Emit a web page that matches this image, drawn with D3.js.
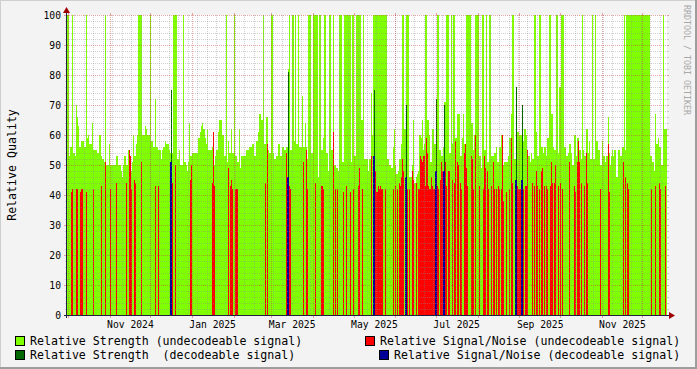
<!DOCTYPE html>
<html>
<head>
<meta charset="utf-8">
<script src="https://cdn.jsdelivr.net/npm/d3@7"></script>
<style>
  body { margin: 0; background: #f3f3f3; }
  svg { display: block; }
  text { font-family: "DejaVu Sans Mono", monospace; fill: #000; }
</style>
</head>
<body>
<div id="chart"></div>
<script>
// samples: one every ~17.8 h, from the first sample time
const sampleStart = Date.UTC(2024, 8, 30, 11, 0);
const sampleEnd = Date.UTC(2025, 11, 19, 13, 0);

// relative strength, undecodeable signal (one value per sample)
const strength = [
  100,100,53,56,56,100,54,54,53,70, 66,63,56,56,58,58,58,56,56,100,
  59,60,57,57,57,64,55,55,55,55, 54,54,60,60,53,52,52,51,100,50,
  50,50,57,50,50,50,50,50,50,53, 53,50,50,50,48,46,50,53,53,50,
  50,55,53,50,48,51,60,53,53,57, 60,100,100,100,100,60,60,60,63,62,
  60,60,60,100,58,58,56,56,72,56, 56,55,55,55,52,55,56,56,58,57,
  57,57,55,54,54,54,100,100,100,100, 52,52,55,50,50,50,100,51,51,50,
  48,51,64,53,53,54,54,54,54,54, 54,59,59,61,63,64,62,62,59,57,
  62,55,55,55,55,56,53,50,53,55, 55,61,65,65,65,60,60,53,53,100,
  51,58,54,54,62,54,54,100,53,53, 51,51,62,49,53,53,53,53,53,55,
  55,55,56,56,56,57,57,53,53,58, 58,61,67,67,65,65,100,57,57,66,
  66,55,54,54,100,100,54,52,52,53, 53,57,57,53,53,56,56,55,55,56,
  56,82,100,55,55,100,100,58,100,57, 57,100,56,56,56,73,56,56,64,56,
  52,100,100,100,54,54,100,100,100,100, 100,46,100,100,55,55,59,100,100,54,
  54,48,100,100,55,55,100,50,50,49, 49,48,100,100,100,51,51,100,100,100,
  100,100,100,100,51,100,100,53,53,100, 100,100,100,100,65,65,100,52,52,52,
  52,48,52,52,74,60,100,100,100,100, 100,100,100,100,100,100,100,100,100,100,
  52,52,50,50,49,49,56,62,50,47, 47,48,52,52,57,100,100,62,62,100,
  100,100,46,46,46,50,65,44,44,46, 47,48,60,60,59,65,55,57,100,100,
  65,65,60,51,51,62,62,57,57,57, 100,100,55,55,53,53,56,71,71,100,
  100,100,54,54,100,57,100,100,59,59, 67,67,67,53,53,59,67,57,57,100,
  100,100,100,100,64,64,55,60,100,100, 100,100,53,53,49,100,100,55,55,100,
  51,51,100,100,53,53,53,54,54,56, 51,51,56,56,60,60,50,51,51,51,
  51,53,59,59,67,100,100,52,52,52, 61,61,60,60,60,58,58,62,62,60,
  53,53,53,51,54,52,52,100,100,61, 53,53,100,100,56,56,54,56,56,53,
  59,59,100,100,67,67,56,55,55,100, 100,54,76,76,100,100,100,56,56,53,
  53,54,57,57,54,50,50,60,60,53, 59,59,55,55,52,100,55,53,53,62,
  62,54,58,52,52,100,52,52,100,58, 58,55,55,50,50,58,53,53,51,53,
  53,66,54,50,53,55,53,55,55,46, 46,55,55,53,53,56,56,100,55,100,
  100,100,100,100,100,100,100,100,100,100, 100,100,100,100,100,100,100,100,100,100,
  100,100,100,53,53,51,51,48,67,57, 57,59,56,56,50,50,100,62,62,62
];

// relative strength, decodeable signal: [sample, value]
const strengthDecodeable = [
  [104,75],[221,81],[307,75],[339,70],[369,72],[377,70],[449,76],[455,70]
];

// relative signal/noise, undecodeable signal: [sample, value]
const snrUndecodeable = [
  [4,41],[5,42],[9,42],[10,42],[13,41],[14,42],[15,42],[19,41],[26,42],[34,43],
  [38,51],[43,42],[49,44],[59,44],[62,55],[63,53],[64,42],[67,45],[68,44],[74,51],
  [88,43],[91,43],[105,44],[108,50],[123,45],[124,50],[145,44],[146,61],[147,43],
  [161,49],[163,43],[164,45],[165,42],[168,42],[169,42],[170,42],[198,44],
  [200,57],[219,54],[222,43],[223,42],[236,51],[239,55],[240,42],[248,44],[254,43],
  [255,43],[256,42],[266,61],[268,42],[270,42],[276,41],[279,43],[283,41],[286,42],
  [291,43],[292,49],[295,42],
  [304,53],[308,48],[309,41],[310,41],[311,43],[312,42],[313,43],[314,42],[315,42],
  [318,42],[326,42],[328,43],[330,42],[332,44],[333,43],[334,46],
  [335,52],[336,48],[340,42],[342,42],[345,48],[346,45],[349,44],
  [351,42],[352,42],[353,53],[354,52],[355,51],[356,53],[357,53],[358,43],[359,59],
  [360,54],[361,43],[362,42],[363,42],[364,46],[365,43],[366,42],[367,42],[370,43],
  [371,42],[373,45],[374,51],[375,48],[378,51],[379,43],[381,48],
  [382,48],[385,45],[387,44],[388,58],[390,51],[391,50],
  [393,44],[394,42],[397,54],[398,57],
  [399,49],[400,43],[404,53],[405,52],[406,42],[408,60],[412,43],[416,42],[417,53],
  [418,49],[420,48],[421,42],[424,43],[426,51],[427,42],
  [429,42],[431,43],[432,42],[434,42],[435,60],[436,38],[439,41],[442,42],
  [444,59],[445,44],[450,43],[451,42],[452,42],[453,42],[456,42],[458,43],[459,43],
  [460,55],[465,44],[467,43],[469,48],[470,43],[472,42],[474,48],
  [475,49],[477,43],[479,43],[480,42],[483,43],[484,51],[485,44],[487,44],
  [488,50],[491,43],[493,44],[495,42],
  [502,51],[507,43],[508,41],[510,51],[511,58],[512,51],[514,44],[517,43],[519,54],
  [520,44],[533,42],[541,57],[542,41],[556,51],[558,46],[560,44],[561,42],[584,42],
  [588,43],[592,44],[593,42],[598,43]
];

// relative signal/noise, decodeable signal: [sample, value]
const snrDecodeable = [
  [103,51],[104,51],[220,46],[221,46],[306,53],[307,53],[338,46],[339,46],
  [368,48],[369,48],[376,48],[377,48],[448,45],[449,45],[454,45],[455,45]
];

const yTicks = d3.range(0, 101, 10);
const legendItems = [
  { label: "Relative Strength (undecodeable signal)", color: "#80ff00" },
  { label: "Relative Signal/Noise (undecodeable signal)", color: "#ff0000" },
  { label: "Relative Strength\u00a0 (decodeable signal)", color: "#006600" },
  { label: "Relative Signal/Noise (decodeable signal)", color: "#000099" }
];

const width = 697, height = 369;
const margin = { top: 15, right: 30, bottom: 54, left: 67 };
const innerWidth = width - margin.left - margin.right;   // 600
const innerHeight = height - margin.top - margin.bottom; // 300

const step = (sampleEnd - sampleStart) / strength.length;
const t = i => new Date(sampleStart + i * step);

const svg = d3.select("#chart").append("svg")
  .attr("width", width)
  .attr("height", height);

// background with shaded border like rrdtool
svg.append("rect").attr("width", width).attr("height", height).attr("fill", "#9e9e9e");
svg.append("rect").attr("width", width - 2).attr("height", height - 2).attr("fill", "#cfcfcf");
svg.append("rect").attr("x", 1).attr("y", 1).attr("width", width - 3).attr("height", height - 3).attr("fill", "#f3f3f3");

const x = d3.scaleUtc()
  .domain([new Date(sampleStart), new Date(sampleEnd)])
  .range([margin.left, margin.left + innerWidth]);
const y = d3.scaleLinear()
  .domain([0, 100])
  .range([margin.top + innerHeight, margin.top]);

svg.append("rect")
  .attr("x", margin.left).attr("y", margin.top)
  .attr("width", innerWidth).attr("height", innerHeight)
  .attr("fill", "#fff");

const marks = svg.append("g").attr("shape-rendering", "crispEdges");
const bar = (g, data, color) => g.selectAll(null)
  .data(data)
  .join("rect")
  .attr("x", d => x(t(d[0])))
  .attr("width", d => x(t(d[0] + 1)) - x(t(d[0])))
  .attr("y", d => y(d[1]))
  .attr("height", d => y(0) - y(d[1]))
  .attr("fill", color);

bar(marks.append("g"), strength.map((v, i) => [i, v]), "#80ff00");
bar(marks.append("g"), strengthDecodeable, "#006600");
bar(marks.append("g"), snrUndecodeable, "#ff0000");
bar(marks.append("g"), snrDecodeable, "#000099");

// grid on top
const x0 = margin.left, x1 = margin.left + innerWidth;
const yTop = margin.top, yBot = margin.top + innerHeight;
const grid = svg.append("g").attr("shape-rendering", "crispEdges");
const minorCol = "rgba(140,140,140,0.4)", majorCol = "rgba(200,60,60,0.45)";

d3.range(0, 101, 2).filter(v => v % 10 !== 0).forEach(v => {
  const yy = Math.round(y(v)) + 0.5;
  grid.append("line").attr("x1", x0).attr("x2", x1).attr("y1", yy).attr("y2", yy)
    .attr("stroke", minorCol).attr("stroke-dasharray", "1,1");
  grid.append("line").attr("x1", x0 - 2).attr("x2", x0).attr("y1", yy).attr("y2", yy).attr("stroke", minorCol);
  grid.append("line").attr("x1", x1).attr("x2", x1 + 2).attr("y1", yy).attr("y2", yy).attr("stroke", minorCol);
});
d3.utcSunday.range(new Date(sampleStart), new Date(sampleEnd)).forEach(d => {
  const xx = Math.round(x(d)) + 0.5;
  grid.append("line").attr("x1", xx).attr("x2", xx).attr("y1", yTop).attr("y2", yBot)
    .attr("stroke", minorCol).attr("stroke-dasharray", "1,1");
});
yTicks.forEach(v => {
  const yy = Math.round(y(v)) + 0.5;
  grid.append("line").attr("x1", x0).attr("x2", x1).attr("y1", yy).attr("y2", yy)
    .attr("stroke", majorCol).attr("stroke-dasharray", "1,1");
  grid.append("line").attr("x1", x0 - 3).attr("x2", x0).attr("y1", yy).attr("y2", yy).attr("stroke", majorCol);
  grid.append("line").attr("x1", x1).attr("x2", x1 + 2).attr("y1", yy).attr("y2", yy).attr("stroke", majorCol);
});
d3.utcMonth.range(new Date(sampleStart), new Date(sampleEnd)).forEach(d => {
  const xx = Math.round(x(d)) + 0.5;
  grid.append("line").attr("x1", xx).attr("x2", xx).attr("y1", yTop - 2).attr("y2", yTop).attr("stroke", majorCol);
  grid.append("line").attr("x1", xx).attr("x2", xx).attr("y1", yTop).attr("y2", yBot)
    .attr("stroke", majorCol).attr("stroke-dasharray", "1,1");
  grid.append("line").attr("x1", xx).attr("x2", xx).attr("y1", yBot).attr("y2", yBot + 3).attr("stroke", majorCol);
});

// axes
grid.append("line").attr("x1", x0 - 3).attr("x2", x1 + 3).attr("y1", yBot + 0.5).attr("y2", yBot + 0.5).attr("stroke", "#202040");
grid.append("line").attr("x1", x0 - 0.5).attr("x2", x0 - 0.5).attr("y1", yBot + 3).attr("y2", yTop - 4).attr("stroke", "#202040");
svg.append("path").attr("d", `M${x1 + 2},${yBot - 3}L${x1 + 8},${yBot + 0.5}L${x1 + 2},${yBot + 4}Z`).attr("fill", "#a00000");
svg.append("path").attr("d", `M${x0 - 4},${yTop - 2}L${x0 - 0.5},${yTop - 8}L${x0 + 3},${yTop - 2}Z`).attr("fill", "#a00000");

// labels
svg.append("g").selectAll("text")
  .data(yTicks)
  .join("text")
  .attr("x", x0 - 6)
  .attr("y", d => y(d) + 3.5)
  .attr("text-anchor", "end")
  .attr("font-size", "9.7px")
  .text(d => d);

// month labels sit mid-month, like rrdtool
svg.append("g").selectAll("text")
  .data(d3.utcMonth.every(2).range(new Date(sampleStart), new Date(sampleEnd)))
  .join("text")
  .attr("x", d => x(d3.utcHour.offset(d, 372)))
  .attr("y", yBot + 13)
  .attr("text-anchor", "middle")
  .attr("font-size", "9.7px")
  .text(d => d3.utcFormat("%b %Y")(d));

svg.append("text")
  .attr("x", -(margin.top + innerHeight / 2))
  .attr("y", 15.5)
  .attr("transform", "rotate(-90)")
  .attr("text-anchor", "middle")
  .attr("font-size", "11.6px")
  .text("Relative Quality");

svg.append("text")
  .attr("x", 5)
  .attr("y", -684)
  .attr("transform", "rotate(90)")
  .attr("font-size", "8.3px")
  .style("fill", "#a8a8a8")
  .text("RRDTOOL / TOBI OETIKER");

// legend
const legendPos = [[15, 345], [365, 345], [15, 359], [379, 359]];
legendItems.forEach((item, i) => {
  const [lx, ly] = legendPos[i];
  svg.append("rect")
    .attr("x", lx + 0.5).attr("y", ly - 8.5)
    .attr("width", 9).attr("height", 9)
    .attr("fill", item.color)
    .attr("stroke", "#000");
  svg.append("text")
    .attr("x", lx + 15)
    .attr("y", ly)
    .attr("font-size", "11.6px")
    .text(item.label);
});
</script>
</body>
</html>
